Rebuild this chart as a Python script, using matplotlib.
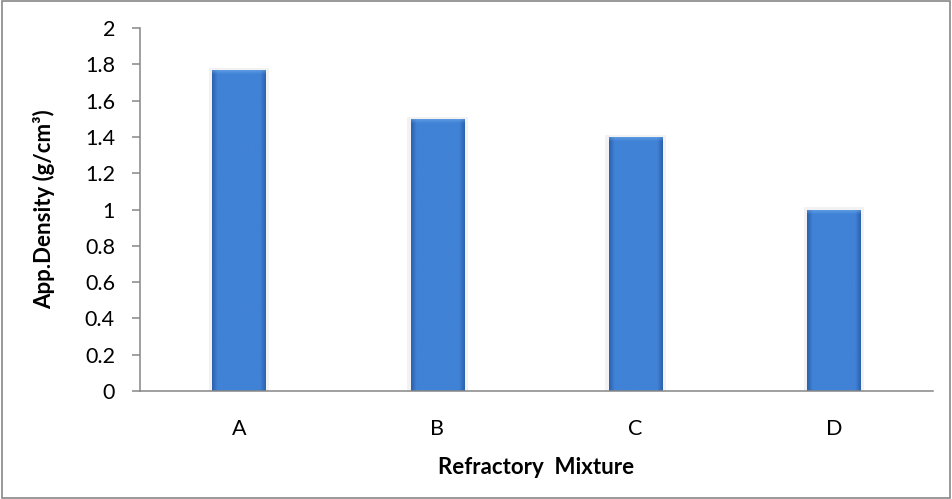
import numpy as np
import matplotlib
matplotlib.use("Agg")
import matplotlib.pyplot as plt
from matplotlib.patches import Rectangle

plt.rcParams['font.family'] = ['Lato', 'DejaVu Sans']

# Apparent density per refractory mixture
mixtures = ["A", "B", "C", "D"]
density = [1.77, 1.5, 1.4, 1.0]
y_ticks = [0, 0.2, 0.4, 0.6, 0.8, 1, 1.2, 1.4, 1.6, 1.8, 2]
y_tick_labels = ["0", "0.2", "0.4", "0.6", "0.8", "1", "1.2", "1.4", "1.6", "1.8", "2"]

BAR_W = 0.27
BASE = np.array([0x40, 0x82, 0xd6]) / 255.0
DARK = np.array([0x2c, 0x62, 0xae]) / 255.0
LIGHT = np.array([0x7a, 0xb4, 0xf0]) / 255.0


def bar_image(height, rows_per_unit=400):
    """Build an RGB gradient for one bar: darker side edges, lighter top bevel."""
    n_rows = max(int(height * rows_per_unit), 20)
    n_cols = 60
    xs = np.linspace(-1, 1, n_cols)
    side = np.clip((np.abs(xs) - 0.8) / 0.2, 0, 1)[None, :, None]
    img = BASE * (1 - side) + DARK * side
    img = np.repeat(img, n_rows, axis=0)
    # bevel at the top of the bar (row 0 is the top with origin='upper')
    bevel = 11
    for r in range(bevel):
        t = 1 - r / bevel
        img[r] = img[r] * (1 - 0.6 * t) + LIGHT * 0.6 * t
    img[0] = img[0] * 0.85 + DARK * 0.15
    return img


fig = plt.figure(figsize=(9.52, 4.99), dpi=100)
ax = fig.add_axes([0.147, 0.2164, 0.833, 0.7275])

x = np.arange(len(mixtures))
# soft shadow behind each bar
ax.bar(x, [v + 0.012 for v in density], width=BAR_W + 0.035, color="#f2f2f2", zorder=1)
bars = ax.bar(x, density, width=BAR_W, color=BASE, zorder=2)
for b, v in zip(bars, density):
    x0 = b.get_x()
    im = ax.imshow(bar_image(v), extent=(x0, x0 + BAR_W, 0, v), aspect="auto",
                   origin="upper", zorder=3, interpolation="bilinear")
    im.set_clip_path(b)

ax.set_xlim(-0.5, len(mixtures) - 0.5)
ax.set_ylim(0, 2)
ax.set_xticks(x)
ax.set_xticklabels(mixtures)
ax.set_yticks(y_ticks)
ax.set_yticklabels(y_tick_labels)

for s in ["top", "right"]:
    ax.spines[s].set_visible(False)
for s in ["left", "bottom"]:
    ax.spines[s].set_color("#868686")
    ax.spines[s].set_linewidth(1.1)
    ax.spines[s].set_zorder(4)

ax.tick_params(axis="y", length=6, width=1.1, color="#868686", pad=12, labelsize=15.5)
ax.tick_params(axis="x", length=0, pad=20, labelsize=15.5)

ax.set_xlabel("Refractory  Mixture", fontsize=16, fontweight="bold", va="center")
ax.xaxis.set_label_coords(0.5, -0.212)
ax.set_ylabel("App.Density (g/cm³)", fontsize=16, fontweight="bold", va="center")
ax.yaxis.set_label_coords(-0.121, 0.5)

# outer chart border
fig.patches.append(Rectangle((0.002, 0.003), 0.996, 0.994, transform=fig.transFigure,
                             fill=False, edgecolor="#888888", linewidth=1.2))

fig.savefig("out.png", dpi=100)
